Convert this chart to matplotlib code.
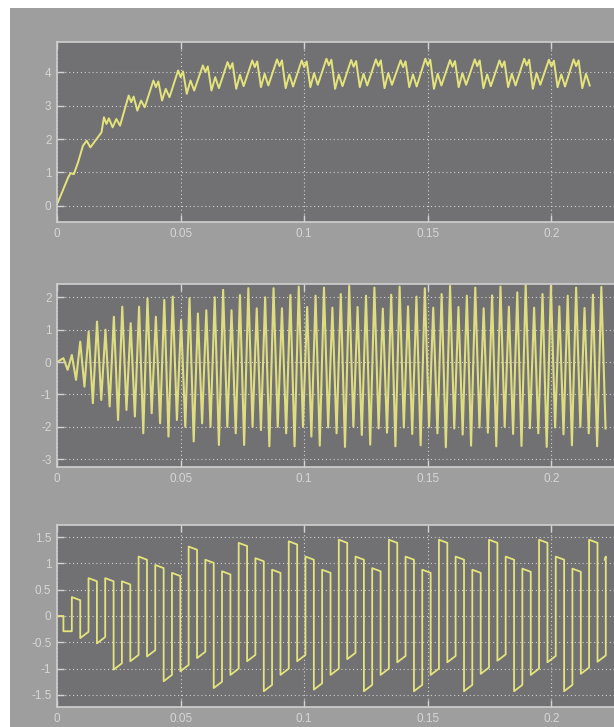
import matplotlib
matplotlib.use('Agg')
import matplotlib.pyplot as plt
from matplotlib.patches import Rectangle

plt.rcParams['axes.unicode_minus'] = False
plt.rcParams['font.family'] = ['Liberation Sans', 'DejaVu Sans']

# ---------------- data ----------------
x_ticks = [0, 0.05, 0.1, 0.15, 0.2]
x_ticklabels = ['0', '0.05', '0.1', '0.15', '0.2']

# Panel 1: early rise (explicit vertices) then ripple cycles
p1_early_t = [0.000, 0.002, 0.0045, 0.0055, 0.0068, 0.0085, 0.0105, 0.0120, 0.0135, 0.0150, 0.0165, 0.0180]
p1_early_y = [0.05, 0.40, 0.85, 0.98, 0.95, 1.30, 1.80, 1.95, 1.75, 1.90, 2.05, 2.20]
p1_cycle_start = 0.018
p1_cycle_period = 0.01
p1_peak = [2.65, 3.30, 3.75, 4.05, 4.20, 4.30, 4.35, 4.38, 4.35, 4.40, 4.36, 4.38, 4.35, 4.40, 4.36, 4.38, 4.35, 4.40, 4.37, 4.38]
p1_dip1 = [2.35, 2.85, 3.15, 3.35, 3.45, 3.50, 3.55, 3.52, 3.55, 3.50, 3.55, 3.52, 3.55, 3.50, 3.55, 3.52, 3.55, 3.50, 3.55, 3.52]
p1_hump = [2.60, 3.15, 3.50, 3.75, 3.85, 3.92, 3.95, 3.93, 3.97, 3.93, 3.95, 3.97, 3.93, 3.95, 3.97, 3.93, 3.95, 3.97, 3.93, 3.95]
p1_dip2 = [2.40, 2.95, 3.25, 3.45, 3.52, 3.58, 3.60, 3.57, 3.62, 3.58, 3.60, 3.62, 3.57, 3.60, 3.62, 3.58, 3.60, 3.62, 3.57, 3.60]
p1_yticks = [0, 1, 2, 3, 4]

# Panel 2: oscillation extrema per cycle
p2_start_value = 0.0
p2_first_t = 0.0026
p2_period = 0.0034
p2_tops = [0.12, 0.22, 0.63, 0.94, 1.25, 1.00, 1.40, 1.71, 1.20, 1.71, 1.97, 1.40, 1.92, 2.02, 1.30,
           1.97, 1.50, 1.60, 2.00, 2.23, 1.60, 2.07, 2.28, 1.66, 2.00, 2.28, 1.66, 2.07, 2.33, 1.70,
           2.05, 2.30, 1.68, 2.10, 2.35, 1.70, 2.05, 2.30, 1.65, 2.08, 2.33, 1.72, 2.02, 2.28, 1.68,
           2.10, 2.35, 1.70, 2.05, 2.30, 1.66, 2.06, 2.33, 1.71, 2.15, 2.38, 1.68, 2.10, 2.36, 1.72,
           2.05, 2.30, 1.67, 2.08, 2.32]
p2_bottoms = [-0.24, -0.55, -0.76, -1.27, -1.17, -1.37, -1.79, -1.48, -1.68, -2.20, -1.58, -1.89, -2.30, -1.79, -2.00,
              -2.45, -1.89, -2.00, -2.56, -2.00, -2.20, -2.56, -2.00, -2.10, -2.60, -2.00, -2.20, -2.60, -2.00, -2.30,
              -2.58, -2.02, -2.20, -2.62, -2.00, -2.25, -2.55, -2.05, -2.18, -2.60, -2.02, -2.22, -2.57, -2.00, -2.20,
              -2.63, -2.05, -2.24, -2.58, -2.02, -2.18, -2.60, -2.00, -2.22, -2.59, -2.04, -2.20, -2.62, -2.02, -2.23,
              -2.57, -2.00, -2.20, -2.60, -2.05]
p2_yticks = [-3, -2, -1, 0, 1, 2]

# Panel 3: switched pulses
p3_init_t = [0.0, 0.0026, 0.0026]
p3_init_y = [0.0, 0.0, -0.29]
p3_first_rise = 0.006
p3_period = 0.00675
p3_high_time = 0.0034
p3_tops = [0.36, 0.72, 0.72, 0.66, 1.13, 0.97, 0.82, 1.32, 1.07, 0.85, 1.39, 1.10, 0.88, 1.42, 1.13, 0.88,
           1.45, 1.13, 0.91, 1.45, 1.13, 0.88, 1.45, 1.13, 0.88, 1.45, 1.13, 0.90, 1.45, 1.13, 0.90, 1.45, 1.13]
p3_bottoms = [-0.42, -0.52, -1.02, -0.86, -0.77, -1.24, -1.05, -0.80, -1.37, -1.12, -0.86, -1.43, -1.12, -0.86, -1.40, -1.12,
              -0.82, -1.43, -1.12, -0.88, -1.43, -1.12, -0.88, -1.43, -1.10, -0.85, -1.43, -1.12, -0.88, -1.43, -1.10, -0.87]
p3_end_t = 0.2216
p3_yticks = [-1.5, -1, -0.5, 0, 0.5, 1, 1.5]
p3_yticklabels = ['-1.5', '-1', '-0.5', '0', '0.5', '1', '1.5']

# ---------------- build vertex lists ----------------
t1 = list(p1_early_t)
y1 = list(p1_early_y)
frac = [0.10, 0.20, 0.30, 0.45, 0.60, 0.75]
for k in range(len(p1_peak)):
    t0 = p1_cycle_start + k * p1_cycle_period
    vals = [p1_peak[k], p1_peak[k] - 0.2, p1_peak[k] - 0.03, p1_dip1[k], p1_hump[k], p1_dip2[k]]
    for f, v in zip(frac, vals):
        t1.append(t0 + f * p1_cycle_period)
        y1.append(v)

t2 = [0.0]
y2 = [p2_start_value]
for k in range(len(p2_tops)):
    tk = p2_first_t + k * p2_period
    t2 += [tk, tk + p2_period / 2]
    y2 += [p2_tops[k], p2_bottoms[k]]

t3 = list(p3_init_t)
y3 = list(p3_init_y)
prev_low = p3_init_y[-1]
for k in range(len(p3_tops)):
    tr = p3_first_rise + k * p3_period
    tf = min(tr + p3_high_time, p3_end_t)
    t3 += [tr, tr]
    y3 += [prev_low, p3_tops[k]]
    t3.append(tf)
    y3.append(p3_tops[k] - 0.06)
    if k < len(p3_bottoms):
        t3.append(tf)
        y3.append(p3_bottoms[k])
        prev_low = p3_bottoms[k] + 0.12

# ---------------- figure ----------------
W, H = 614, 727
fig = plt.figure(figsize=(W / 100, H / 100), dpi=100, facecolor='white')
bg = Rectangle((10 / W, 0), 1, 1 - 8 / H, transform=fig.transFigure,
               facecolor='#9e9e9e', edgecolor='none', zorder=-10)
fig.add_artist(bg)

axes_px = [(42, 222), (284, 467), (525, 707)]
left = 57
width_px = 618
line_color = '#e4e47c'

def make_ax(top, bottom):
    ax = fig.add_axes([left / W, 1 - bottom / H, width_px / W, (bottom - top) / H])
    ax.set_zorder(1)
    ax.set_facecolor('#717173')
    ax.set_xlim(0, 0.25)
    ax.set_xticks(x_ticks)
    ax.set_xticklabels(x_ticklabels)
    ax.set_axisbelow(True)
    ax.grid(True, color='#cfcfcf', linestyle=(0, (1, 2.5)), linewidth=0.8)
    for s in ax.spines.values():
        s.set_color('#cfcfcf')
        s.set_linewidth(1.2)
    ax.tick_params(direction='in', colors='#d2d2d2', labelcolor='#d6d6d6',
                   labelsize=8.5, length=5, width=1, top=True, right=True, pad=4)
    return ax

ax1 = make_ax(*axes_px[0])
ax1.plot(t1, y1, color=line_color, lw=1.4)
ax1.set_ylim(-0.48, 4.9)
ax1.set_yticks(p1_yticks)

ax2 = make_ax(*axes_px[1])
ax2.plot(t2, y2, color='#dede80', lw=1.5)
ax2.set_ylim(-3.24, 2.41)
ax2.set_yticks(p2_yticks)

ax3 = make_ax(*axes_px[2])
ax3.plot(t3, y3, color=line_color, lw=1.3)
ax3.set_ylim(-1.73, 1.73)
ax3.set_yticks(p3_yticks)
ax3.set_yticklabels(p3_yticklabels)

fig.savefig('out.png', dpi=100, facecolor=fig.get_facecolor())
